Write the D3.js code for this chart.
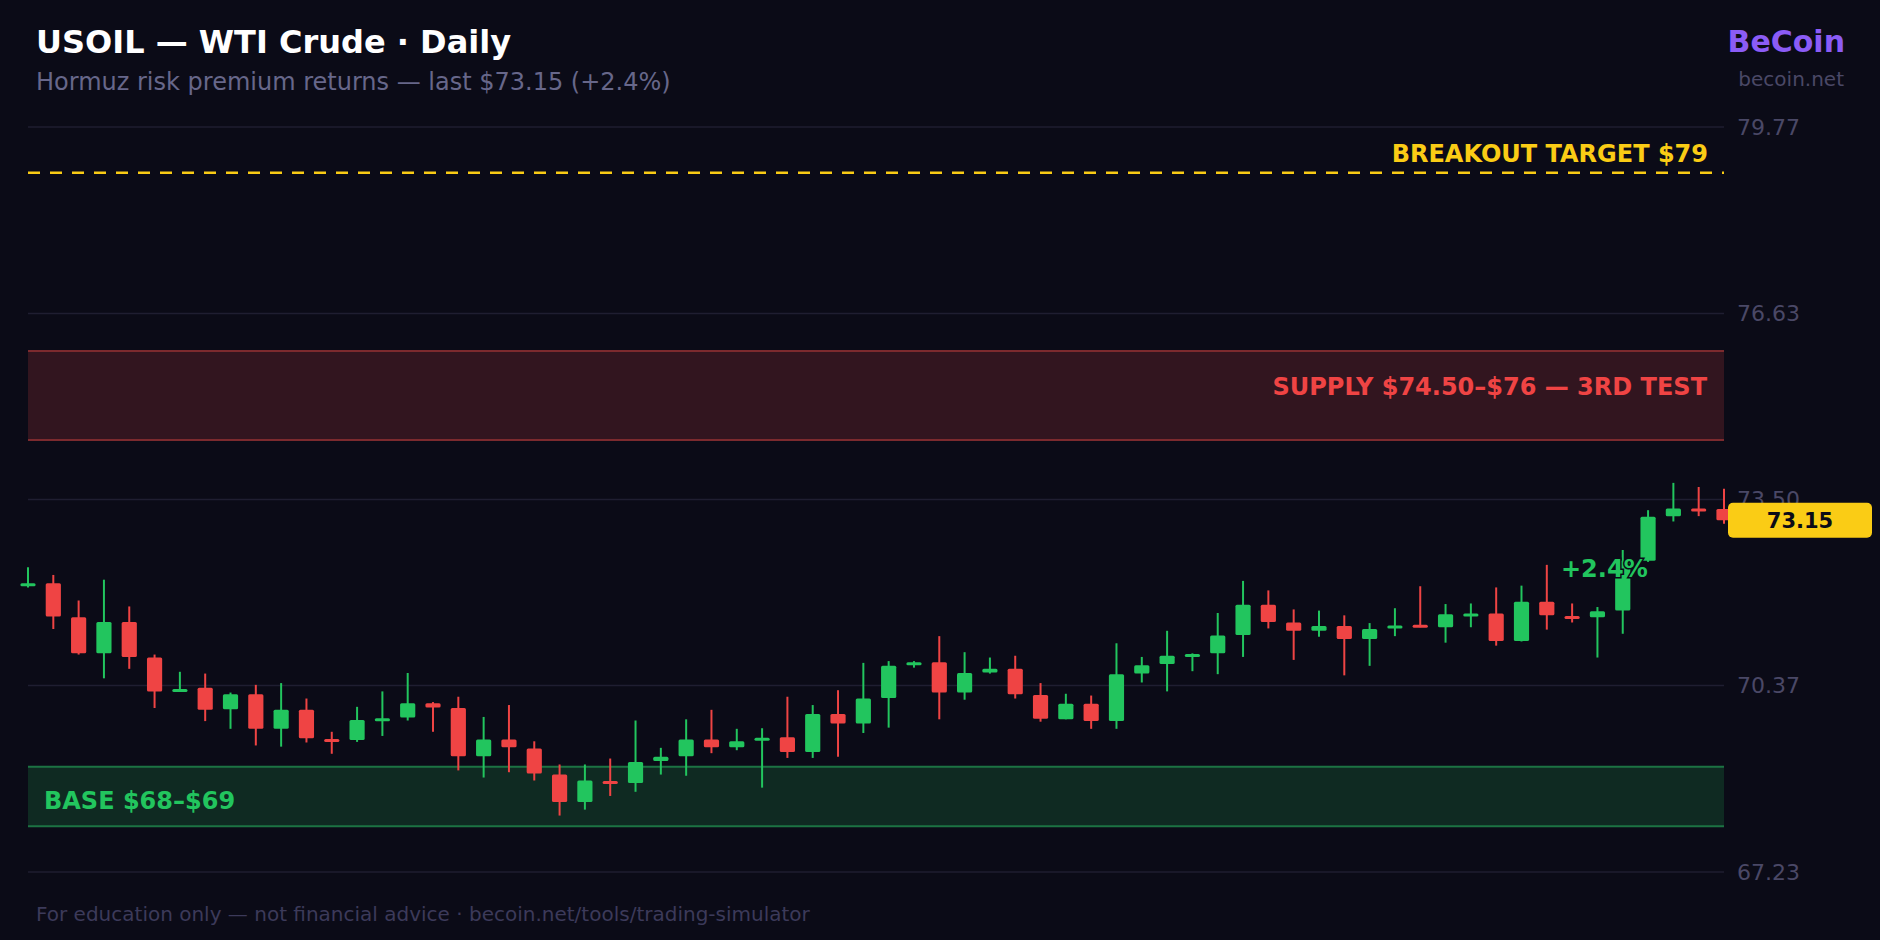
<!DOCTYPE html>
<html>
<head>
<meta charset="utf-8">
<script src="https://cdn.jsdelivr.net/npm/d3@7"></script>
<style>
  html, body { margin: 0; padding: 0; background: #0b0b17; }
  svg { display: block; font-family: "DejaVu Sans", sans-serif; }
</style>
</head>
<body>
<div id="chart"></div>
<script>
var width = 1880
var height = 940

var days = d3.range(68)
var opens = [72.06, 72.09, 71.52, 70.91, 71.44, 70.84, 70.28, 70.33, 69.97, 70.22,
  69.64, 69.96, 69.47, 69.45, 69.79, 69.83, 70.07, 69.99, 69.18, 69.46,
  69.31, 68.87, 68.41, 68.76, 68.73, 69.10, 69.18, 69.46, 69.33, 69.45,
  69.50, 69.25, 69.89, 69.73, 70.16, 70.71, 70.76, 70.25, 70.59, 70.65,
  70.21, 69.80, 70.06, 69.77, 70.57, 70.73, 70.86, 70.91, 71.22, 71.73,
  71.43, 71.29, 71.37, 71.15, 71.33, 71.39, 71.35, 71.54, 71.58, 71.12,
  71.78, 71.54, 71.52, 71.63, 72.47, 73.22, 73.35, 73.34]
var highs = [72.36, 72.23, 71.80, 72.15, 71.70, 70.89, 70.60, 70.57, 70.25, 70.38,
  70.41, 70.15, 69.59, 70.01, 70.27, 70.58, 70.09, 70.18, 69.84, 70.04,
  69.43, 69.04, 69.04, 69.14, 69.78, 69.32, 69.80, 69.96, 69.64, 69.65,
  70.18, 70.04, 70.29, 70.75, 70.78, 70.78, 71.20, 70.93, 70.84, 70.87,
  70.41, 70.23, 70.20, 71.08, 70.85, 71.29, 70.91, 71.59, 72.13, 71.97,
  71.65, 71.63, 71.55, 71.42, 71.67, 72.04, 71.74, 71.75, 72.02, 72.05,
  72.40, 71.75, 71.69, 72.65, 73.32, 73.78, 73.71, 73.68]
var lows = [72.02, 71.32, 70.89, 70.49, 70.65, 69.99, 70.26, 69.77, 69.64, 69.36,
  69.34, 69.41, 69.22, 69.42, 69.52, 69.78, 69.59, 68.94, 68.82, 68.91,
  68.77, 68.18, 68.28, 68.51, 68.58, 68.87, 68.85, 69.23, 69.28, 68.65,
  69.15, 69.15, 69.17, 69.57, 69.66, 70.67, 69.80, 70.13, 70.57, 70.15,
  69.76, 69.80, 69.64, 69.64, 70.42, 70.27, 70.61, 70.56, 70.85, 71.33,
  70.80, 71.19, 70.54, 70.70, 71.20, 71.35, 71.09, 71.35, 71.04, 71.11,
  71.31, 71.43, 70.84, 71.24, 72.45, 73.13, 73.22, 73.09]
var closes = [72.09, 71.53, 70.91, 71.44, 70.85, 70.27, 70.31, 69.96, 70.22, 69.64,
  69.96, 69.48, 69.44, 69.79, 69.82, 70.07, 70.00, 69.18, 69.46, 69.33,
  68.89, 68.41, 68.77, 68.73, 69.08, 69.17, 69.46, 69.33, 69.43, 69.49,
  69.25, 69.89, 69.73, 70.15, 70.70, 70.76, 70.25, 70.58, 70.65, 70.22,
  69.81, 70.06, 69.77, 70.56, 70.71, 70.87, 70.90, 71.21, 71.73, 71.44,
  71.29, 71.37, 71.15, 71.32, 71.38, 71.35, 71.57, 71.58, 71.12, 71.78,
  71.55, 71.51, 71.62, 72.47, 73.21, 73.35, 73.31, 73.15]

var yTicks = [67.23, 70.37, 73.50, 76.63, 79.77]
var yDomain = [67.23, 79.77]

var supplyZone = [74.50, 76.00]
var baseZone = [68.00, 69.00]
var breakout = 79
var lastPrice = 73.15

var green = '#22c55e'
var red = '#ef4444'
var yellow = '#facc15'

var data = days.map(function (d, i) {
  return { i: d, o: opens[i], h: highs[i], l: lows[i], c: closes[i] }
})

var x = d3.scalePoint()
  .domain(days)
  .range([28, 1724])

var y = d3.scaleLinear()
  .domain(yDomain)
  .range([872, 127])

var bodyW = x.step() * 0.6

var svg = d3.select('#chart').append('svg')
  .attr('width', width)
  .attr('height', height)

svg.append('rect')
  .attr('width', width)
  .attr('height', height)
  .attr('fill', '#0b0b17')

// grid + right axis labels
var grid = svg.append('g')
grid.selectAll('line')
  .data(yTicks)
  .enter()
  .append('line')
  .attr('x1', 28)
  .attr('x2', 1724)
  .attr('y1', function (d) { return y(d) })
  .attr('y2', function (d) { return y(d) })
  .attr('stroke', '#1f1e31')
  .attr('stroke-width', 1.5)

grid.selectAll('text')
  .data(yTicks)
  .enter()
  .append('text')
  .attr('x', 1737)
  .attr('y', function (d) { return y(d) })
  .attr('dy', '0.36em')
  .attr('fill', '#4a4866')
  .attr('style', 'font-size:22px;')
  .text(function (d) { return d.toFixed(2) })

// zones
function zone(range, fill, edge) {
  var g = svg.append('g')
  g.append('rect')
    .attr('x', 28)
    .attr('width', 1724 - 28)
    .attr('y', y(range[1]))
    .attr('height', y(range[0]) - y(range[1]))
    .attr('fill', fill)
  g.selectAll('line')
    .data(range)
    .enter()
    .append('line')
    .attr('x1', 28)
    .attr('x2', 1724)
    .attr('y1', function (d) { return y(d) })
    .attr('y2', function (d) { return y(d) })
    .attr('stroke', edge)
    .attr('stroke-width', 2)
}
zone(supplyZone, '#32151f', '#7c2a2e')
zone(baseZone, '#0f2a22', '#1c7343')

svg.append('text')
  .attr('x', 1707)
  .attr('y', y(d3.mean(supplyZone)) - 1)
  .attr('text-anchor', 'end')
  .attr('fill', red)
  .attr('style', 'font-size:24px;font-weight:bold;')
  .text('SUPPLY $74.50–$76 — 3RD TEST')

svg.append('text')
  .attr('x', 44)
  .attr('y', y(d3.mean(baseZone)) + 12)
  .attr('fill', green)
  .attr('style', 'font-size:24px;font-weight:bold;')
  .text('BASE $68–$69')

svg.append('line')
  .attr('x1', 28)
  .attr('x2', 1724)
  .attr('y1', y(breakout))
  .attr('y2', y(breakout))
  .attr('stroke', yellow)
  .attr('stroke-width', 2.5)
  .attr('stroke-dasharray', '12,10')

svg.append('text')
  .attr('x', 1708)
  .attr('y', y(breakout) - 11)
  .attr('text-anchor', 'end')
  .attr('fill', yellow)
  .attr('style', 'font-size:24px;font-weight:bold;')
  .text('BREAKOUT TARGET $' + breakout)

// candles
var candles = svg.append('g')
  .selectAll('g')
  .data(data)
  .enter()
  .append('g')

candles.append('line')
  .attr('x1', function (d) { return x(d.i) })
  .attr('x2', function (d) { return x(d.i) })
  .attr('y1', function (d) { return y(d.h) })
  .attr('y2', function (d) { return y(d.l) })
  .attr('stroke', function (d) { return d.c >= d.o ? green : red })
  .attr('stroke-width', 2)

candles.append('rect')
  .attr('x', function (d) { return x(d.i) - bodyW / 2 })
  .attr('width', bodyW)
  .attr('y', function (d) { return y(Math.max(d.o, d.c)) })
  .attr('height', function (d) { return Math.max(3, Math.abs(y(d.o) - y(d.c))) })
  .attr('rx', 1.5)
  .attr('fill', function (d) { return d.c >= d.o ? green : red })

svg.append('text')
  .attr('x', 1561)
  .attr('y', 577)
  .attr('fill', green)
  .attr('stroke', '#0b0b17')
  .attr('stroke-width', 3)
  .attr('paint-order', 'stroke')
  .attr('style', 'font-size:24px;font-weight:bold;')
  .text('+2.4%')

// last price tag
svg.append('rect')
  .attr('x', 1728)
  .attr('y', y(lastPrice) - 17.5)
  .attr('width', 144)
  .attr('height', 35)
  .attr('rx', 5)
  .attr('fill', yellow)

svg.append('text')
  .attr('x', 1800)
  .attr('y', y(lastPrice))
  .attr('dy', '0.36em')
  .attr('text-anchor', 'middle')
  .attr('fill', '#0b0b17')
  .attr('style', 'font-size:21px;font-weight:bold;')
  .text(lastPrice.toFixed(2))

// header
svg.append('text')
  .attr('x', 36)
  .attr('y', 53)
  .attr('fill', '#ffffff')
  .attr('style', 'font-size:32px;font-weight:bold;')
  .text('USOIL — WTI Crude · Daily')

svg.append('text')
  .attr('x', 36)
  .attr('y', 90)
  .attr('fill', '#67678a')
  .attr('style', 'font-size:24px;')
  .text('Hormuz risk premium returns — last $73.15 (+2.4%)')

svg.append('text')
  .attr('x', 1845)
  .attr('y', 52)
  .attr('text-anchor', 'end')
  .attr('fill', '#8b5cf6')
  .attr('style', 'font-size:30px;font-weight:bold;')
  .text('BeCoin')

svg.append('text')
  .attr('x', 1844)
  .attr('y', 86)
  .attr('text-anchor', 'end')
  .attr('fill', '#4a4866')
  .attr('style', 'font-size:20px;')
  .text('becoin.net')

svg.append('text')
  .attr('x', 36)
  .attr('y', 921)
  .attr('fill', '#3c3a5a')
  .attr('style', 'font-size:20px;')
  .text('For education only — not financial advice · becoin.net/tools/trading-simulator')
</script>
</body>
</html>
